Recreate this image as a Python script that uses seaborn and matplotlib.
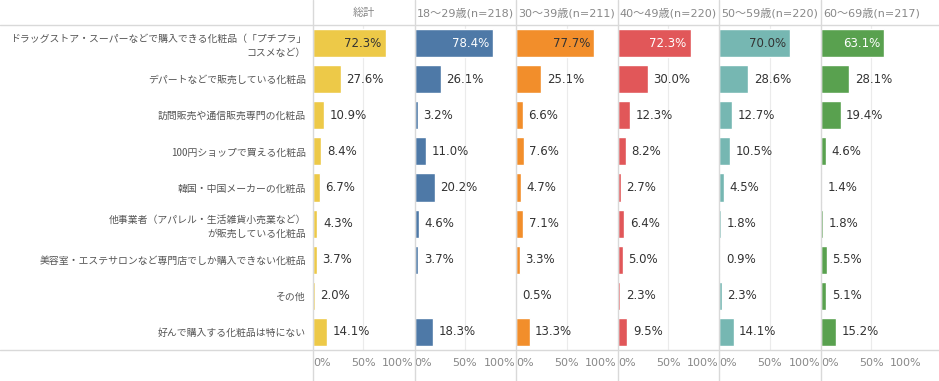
import numpy as np
import pandas as pd
import seaborn as sns
import matplotlib
matplotlib.use('Agg')
import matplotlib.pyplot as plt
from matplotlib.lines import Line2D

sns.set_style("white")
plt.rcParams['font.family'] = ['Noto Sans CJK JP', 'DejaVu Sans']
num_font = ['DejaVu Sans', 'Noto Sans CJK JP']

items = [
    "ドラッグストア・スーパーなどで購入できる化粧品（「プチプラ」\nコスメなど）",
    "デパートなどで販売している化粧品",
    "訪問販売や通信販売専門の化粧品",
    "100円ショップで買える化粧品",
    "韓国・中国メーカーの化粧品",
    "他事業者（アパレル・生活雑貨小売業など）\nが販売している化粧品",
    "美容室・エステサロンなど専門店でしか購入できない化粧品",
    "その他",
    "好んで購入する化粧品は特にない",
]
groups = ["総計", "18〜29歳(n=218)", "30〜39歳(n=211)", "40〜49歳(n=220)",
          "50〜59歳(n=220)", "60〜69歳(n=217)"]
total = [72.3, 27.6, 10.9, 8.4, 6.7, 4.3, 3.7, 2.0, 14.1]
age18 = [78.4, 26.1, 3.2, 11.0, 20.2, 4.6, 3.7, np.nan, 18.3]
age30 = [77.7, 25.1, 6.6, 7.6, 4.7, 7.1, 3.3, 0.5, 13.3]
age40 = [72.3, 30.0, 12.3, 8.2, 2.7, 6.4, 5.0, 2.3, 9.5]
age50 = [70.0, 28.6, 12.7, 10.5, 4.5, 1.8, 0.9, 2.3, 14.1]
age60 = [63.1, 28.1, 19.4, 4.6, 1.4, 1.8, 5.5, 5.1, 15.2]
series = [total, age18, age30, age40, age50, age60]
colors = ["#EDC948", "#4E79A7", "#F28E2B", "#E15759", "#76B7B2", "#59A14F"]
inside_text = ["#333333", "white", "#333333", "white", "#333333", "white"]

W, H = 939, 381
fig = plt.figure(figsize=(W / 100, H / 100), dpi=100)

left0 = 313
pw = 101.6
top_px, bot_px = 25, 350
gray = "#555555"
line_c = "#D9D9D9"

for i, (g, vals) in enumerate(zip(groups, series)):
    x0 = left0 + i * pw
    ax = fig.add_axes([x0 / W, 1 - bot_px / H, (pw - 1) / W, (bot_px - top_px) / H])
    df = pd.DataFrame({"item": items, "pct": vals})
    sns.barplot(data=df, x="pct", y="item", color=colors[i], width=0.78,
                saturation=1, ax=ax, order=items)
    ax.set_xlim(0, 100)
    ax.set_ylim(8.5, -0.5)
    ax.axvline(50, color="#EBEBEB", lw=0.8, zorder=0)
    for sp in ax.spines.values():
        sp.set_visible(False)
    ax.set_xlabel("")
    ax.set_ylabel("")
    ax.set_xticks([0, 50, 100])
    ax.set_xticklabels(["0%", "50%", "100%"], color="#888888", fontsize=8,
                       family=num_font)
    labs = ax.get_xticklabels()
    labs[0].set_ha("left")
    labs[2].set_ha("right")
    ax.tick_params(axis="x", length=0, pad=6)
    if i == 0:
        ax.tick_params(axis="y", length=0, pad=5)
        for t in ax.get_yticklabels():
            t.set_color(gray)
            t.set_fontsize(7.1)
            t.set_linespacing(1.55)
    else:
        ax.set_yticks([])
    for j, v in enumerate(vals):
        if np.isnan(v):
            continue
        if j == 0:
            ax.annotate(f"{v:.1f}%", (v, j), xytext=(-3, 0), textcoords="offset points",
                        ha="right", va="center", fontsize=8.5, family=num_font,
                        color=inside_text[i])
        else:
            ax.annotate(f"{v:.1f}%", (v, j), xytext=(4, 0), textcoords="offset points",
                        ha="left", va="center", fontsize=8.5, family=num_font,
                        color="#333333")
    ha = "center" if i == 0 else "left"
    hx = (x0 + pw / 2) / W if i == 0 else (x0 + 2) / W
    fig.text(hx, 1 - 13 / H, g, ha=ha, va="center", fontsize=8, color="#888888",
             family=num_font)
    fig.add_artist(Line2D([x0 / W, x0 / W], [0, 1], color=line_c, lw=1))

for yp in [top_px, bot_px]:
    fig.add_artist(Line2D([0, 1], [1 - yp / H, 1 - yp / H], color=line_c, lw=1))

fig.savefig("out.png", dpi=100)
